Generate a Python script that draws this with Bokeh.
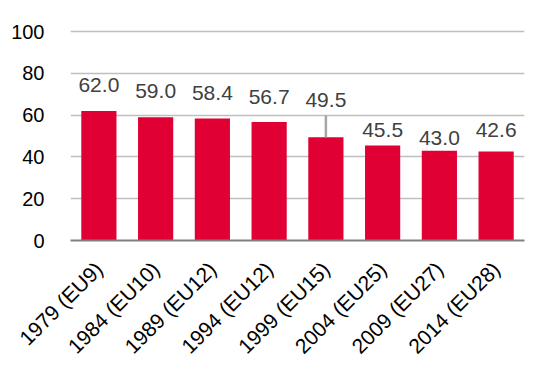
from bokeh.plotting import figure
from bokeh.models import ColumnDataSource, Range1d, FactorRange, FixedTicker
from bokeh.core.properties import value
from bokeh.embed import file_html
from bokeh.resources import INLINE
import math

categories = ["1979 (EU9)", "1984 (EU10)", "1989 (EU12)", "1994 (EU12)",
              "1999 (EU15)", "2004 (EU25)", "2009 (EU27)", "2014 (EU28)"]
turnout = [62.0, 59.0, 58.4, 56.7, 49.5, 45.5, 43.0, 42.6]
value_labels = ["62.0", "59.0", "58.4", "56.7", "49.5", "45.5", "43.0", "42.6"]
y_ticks = [0, 20, 40, 60, 80, 100]

# style: per-label offset (px) of the label baseline above the bar top
label_offsets_px = [26, 26, 26, 25, 37, 15, 13, 22]

FONT = "Liberation Sans"
BAR = "#E00034"

p = figure(x_range=FactorRange(*categories), y_range=Range1d(0, 102),
           width=537, height=371, output_backend="svg", toolbar_location=None,
           min_border_left=70, min_border_right=13, min_border_top=27,
           min_border_bottom=131)
p.outline_line_color = None
p.background_fill_color = "white"
p.border_fill_color = "white"

src = ColumnDataSource(dict(cat=categories, val=turnout, lab=value_labels,
                            off=[-o for o in label_offsets_px]))
p.vbar(x="cat", top="val", width=0.62, source=src, fill_color=BAR,
       line_color=None)

# leader line for the lifted label
px_per_unit = 213 / 102.0
i = 4
lead_top = turnout[i] + (label_offsets_px[i] - 15) / px_per_unit
p.segment(x0=[categories[i]], y0=[turnout[i]], x1=[categories[i]], y1=[lead_top],
          line_color="#A6A6A6", line_width=2.5)

p.text(x="cat", y="val", text="lab", source=src, y_offset="off",
       text_align="center", text_baseline="alphabetic",
       text_font=value(FONT), text_font_size="21px", text_color="#404040")

# axes
p.yaxis.ticker = FixedTicker(ticks=y_ticks)
p.yaxis.axis_line_color = None
p.yaxis.major_tick_line_color = None
p.yaxis.minor_tick_line_color = None
p.yaxis.major_label_standoff = 20
p.yaxis.major_label_text_font = FONT
p.yaxis.major_label_text_font_size = "20px"
p.yaxis.major_label_text_color = "#000000"

p.xaxis.axis_line_color = "#808080"
p.xaxis.axis_line_width = 2
p.xaxis.major_tick_line_color = None
p.xaxis.minor_tick_line_color = None
p.xaxis.major_label_orientation = math.pi / 4
p.xaxis.major_label_standoff = 19
p.xaxis.major_label_text_font = FONT
p.xaxis.major_label_text_font_size = "21px"
p.xaxis.major_label_text_color = "#000000"

p.xgrid.grid_line_color = None
p.ygrid.grid_line_color = "#BFBFBF"
p.ygrid.grid_line_width = 1.5

open("out.html", "w").write(file_html(p, INLINE))
